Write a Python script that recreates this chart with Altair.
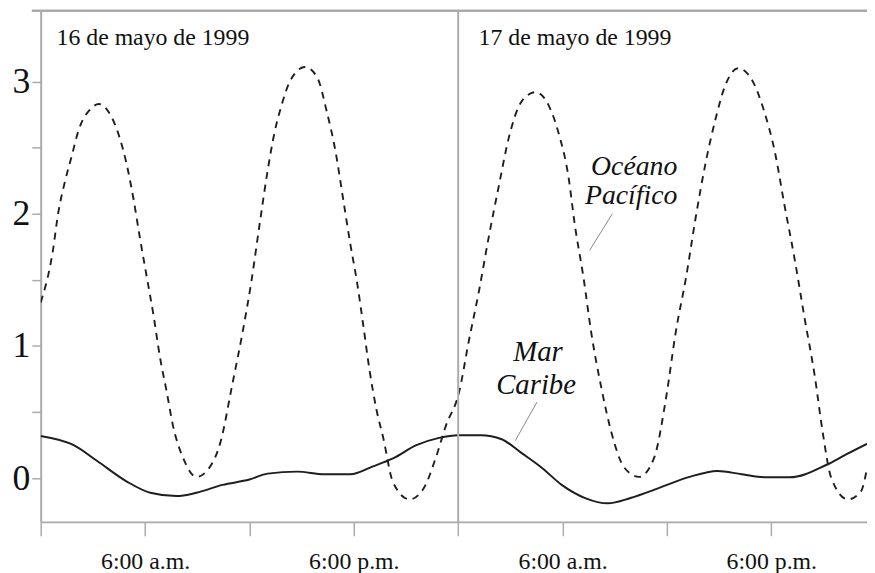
import altair as alt
import pandas as pd

# Pacific Ocean tide (dashed), hours since 0:00 on 16 May 1999, level in m
pac_hours = [0.0, 0.7, 1.0, 1.35, 1.75, 2.2, 2.85, 3.35, 4.0, 4.55, 4.95, 5.35, 5.7, 6.1, 6.5,
             6.85, 7.25, 7.6, 8.2, 8.95, 9.7, 10.35, 11.0, 11.6, 12.1, 12.65, 13.05, 13.45, 13.8,
             14.4, 15.2, 15.9, 16.45, 16.95, 17.4, 17.8, 18.2, 18.55, 18.9, 19.3, 19.7, 20.25,
             21.2, 22.0, 22.7, 23.3, 24.05, 24.6, 25.2, 25.75, 26.35, 26.9, 27.65, 28.45, 29.2,
             29.75, 30.35, 30.7, 31.2, 31.65, 32.25, 32.8, 33.55, 34.4, 35.25, 36.0, 36.5, 37.1,
             37.65, 38.2, 38.8, 39.35, 40.1, 40.85, 41.6, 42.2, 42.75, 43.35, 43.9, 44.5, 44.95,
             45.45, 46.4, 47.15, 47.5]
pac_level = [1.33, 1.72, 2.00, 2.22, 2.42, 2.64, 2.79, 2.83, 2.75, 2.57, 2.37, 2.10, 1.82, 1.52, 1.22,
             0.92, 0.65, 0.40, 0.15, 0.01, 0.08, 0.28, 0.70, 1.10, 1.48, 1.98, 2.33, 2.62, 2.80,
             3.02, 3.11, 3.03, 2.77, 2.47, 2.10, 1.77, 1.47, 1.15, 0.82, 0.52, 0.30, -0.03,
             -0.16, -0.08, 0.15, 0.40, 0.65, 1.03, 1.42, 1.82, 2.22, 2.57, 2.85, 2.92, 2.82,
             2.62, 2.27, 1.92, 1.52, 1.10, 0.67, 0.35, 0.08, 0.01, 0.15, 0.65, 1.10, 1.52,
             1.97, 2.37, 2.72, 2.97, 3.10, 3.02, 2.77, 2.47, 2.07, 1.65, 1.22, 0.77, 0.35,
             0.0, -0.16, -0.10, 0.075]

# Caribbean Sea tide (solid)
car_hours = [0.0, 1.9, 3.25, 4.95, 6.3, 7.8, 8.95, 10.45, 12.0, 13.05, 14.75, 16.3, 17.8, 19.1,
             20.25, 21.6, 22.9, 24.0, 25.3, 26.5, 27.65, 28.8, 29.95, 31.3, 32.6, 33.9, 35.25,
             36.0, 37.3, 38.9, 40.3, 41.7, 43.05, 45.15, 46.3, 47.5]
car_level = [0.32, 0.25, 0.13, -0.025, -0.11, -0.135, -0.11, -0.05, -0.01, 0.035, 0.05, 0.03, 0.03,
             0.09, 0.15, 0.25, 0.305, 0.325, 0.325, 0.295, 0.19, 0.08, -0.05, -0.15, -0.19,
             -0.15, -0.088, -0.05, 0.01, 0.055, 0.03, 0.007, 0.007, 0.10, 0.18, 0.26]

x_tick_hours = [0, 6, 12, 18, 24, 30, 36, 42]
x_tick_labels = ["", "6:00 a.m.", "", "6:00 p.m.", "", "6:00 a.m.", "", "6:00 p.m."]
y_tick_values = [0, 0.5, 1, 1.5, 2, 2.5, 3]
y_tick_labels = ["0", "", "1", "", "2", "", "3"]
day_labels = ["16 de mayo de 1999", "17 de mayo de 1999"]
series_labels = [["Océano", "Pacífico"], ["Mar", "Caribe"]]
day_break = [24]

SERIF = "Liberation Serif"
GRAY = "#ababab"
INK = "#1e1e1e"
W, H = 834, 516


def label_expr(values, labels):
    expr = "''"
    for v, l in zip(values, labels):
        expr = f"datum.value == {v} ? '{l}' : ({expr})"
    return expr


xs = alt.Scale(domain=[0, 47.5], nice=False, zero=False)
ys = alt.Scale(domain=[-0.33, 3.536], nice=False, zero=False)

x_axis = alt.Axis(values=x_tick_hours, labelExpr=label_expr(x_tick_hours, x_tick_labels),
                  title=None, grid=False, tickSize=14, tickColor=GRAY, tickWidth=1.5,
                  domainColor=GRAY, domainWidth=2, labelFont=SERIF, labelFontSize=24,
                  labelColor="#111", labelPadding=14, labelFlush=False, labelOverlap=False)
y_axis = alt.Axis(values=y_tick_values, labelExpr=label_expr(y_tick_values, y_tick_labels),
                  title=None, grid=False, tickSize=9, tickColor=GRAY, tickWidth=1.5,
                  domainColor=GRAY, domainWidth=2, labelFont=SERIF, labelFontSize=36,
                  labelColor="#111", labelPadding=2, labelOverlap=False)

pac_df = pd.DataFrame({"h": pac_hours, "v": pac_level})
car_df = pd.DataFrame({"h": car_hours, "v": car_level})

pacific = alt.Chart(pac_df).mark_line(
    color=INK, strokeWidth=1.9, strokeDash=[7, 6], interpolate="monotone", clip=True
).encode(x=alt.X("h:Q", scale=xs, axis=x_axis), y=alt.Y("v:Q", scale=ys, axis=y_axis))

caribe = alt.Chart(car_df).mark_line(
    color=INK, strokeWidth=2, interpolate="monotone", clip=True
).encode(x=alt.X("h:Q", scale=xs), y=alt.Y("v:Q", scale=ys))

divider = alt.Chart(pd.DataFrame({"h": day_break})).mark_rule(
    color=GRAY, strokeWidth=2
).encode(x=alt.X("h:Q", scale=xs))

top_line = alt.Chart(pd.DataFrame({"h": [0]})).mark_rule(
    color=GRAY, strokeWidth=2.5
).encode(x=alt.value(-9), x2=alt.value(W), y=alt.value(0))


def text_layer(txt, x, y, size, italic=False, align="left"):
    return alt.Chart(pd.DataFrame({"t": [txt]})).mark_text(
        font=SERIF, fontSize=size, fontStyle="italic" if italic else "normal",
        color="#111", align=align, baseline="alphabetic"
    ).encode(x=alt.value(x), y=alt.value(y), text="t:N")


texts = [
    text_layer(day_labels[0], 16, 35, 24),
    text_layer(day_labels[1], 442, 35, 24),
    text_layer(series_labels[0][0], 599, 166, 28, True, "center"),
    text_layer(series_labels[0][1], 596, 195, 28, True, "center"),
    text_layer(series_labels[1][0], 502, 354, 29, True, "center"),
    text_layer(series_labels[1][1], 500, 387, 29, True, "center"),
]

leaders = [
    alt.Chart(pd.DataFrame({"h": [0]})).mark_rule(color="#888", strokeWidth=1).encode(
        x=alt.value(577), y=alt.value(205), x2=alt.value(554), y2=alt.value(242)),
    alt.Chart(pd.DataFrame({"h": [0]})).mark_rule(color="#888", strokeWidth=1).encode(
        x=alt.value(501), y=alt.value(395), x2=alt.value(479), y2=alt.value(434)),
]

chart = alt.layer(
    pacific, caribe, divider, top_line, *leaders, *texts
).properties(
    width=W, height=H,
    autosize=alt.AutoSizeParams(type="none"),
    padding={"left": 33, "top": 0, "right": 0, "bottom": 56},
).configure_view(strokeWidth=0).configure(background="white")

chart.save("out.html", embed_options={"renderer": "svg", "actions": False})
